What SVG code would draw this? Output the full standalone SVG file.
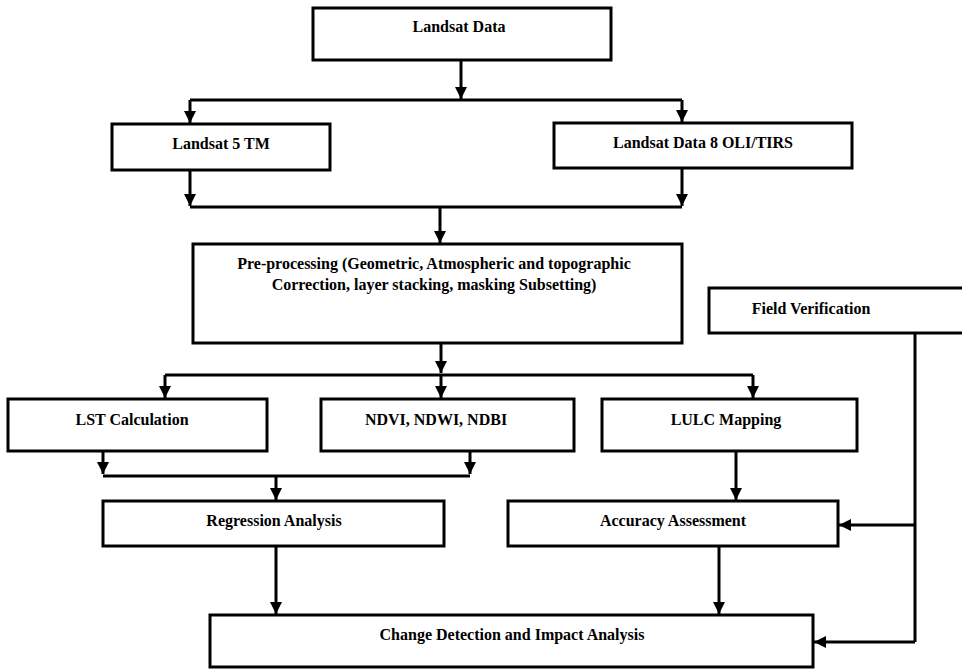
<svg xmlns="http://www.w3.org/2000/svg" width="962" height="669" viewBox="0 0 962 669">
<defs>
<marker id="ah" viewBox="0 0 10 10" refX="10" refY="5" markerWidth="4" markerHeight="4.4" orient="auto" markerUnits="strokeWidth">
<path d="M0,0 L10,5 L0,10 Z" fill="#000"/>
</marker>
<style>
.box{fill:#fff;stroke:#000;stroke-width:3}
.t{font-weight:bold;font-size:16px;text-anchor:middle;fill:#000}
.c{fill:none;stroke:#000;stroke-width:3}
.a{fill:none;stroke:#000;stroke-width:3;marker-end:url(#ah)}
</style>
</defs>
<rect width="962" height="669" fill="#fff"/>
<g id="connectors">
<path class="a" d="M461,60 V99"/>
<path class="c" d="M190,100 H682"/>
<path class="a" d="M190,100 V123"/>
<path class="a" d="M682,100 V122"/>
<path class="a" d="M190,170 V206"/>
<path class="a" d="M682,168 V206"/>
<path class="c" d="M190,207 H682"/>
<path class="a" d="M440,207 V243"/>
<path class="a" d="M441,343 V373"/>
<path class="c" d="M165,375 H753"/>
<path class="a" d="M165,375 V398"/>
<path class="a" d="M441,375 V398"/>
<path class="a" d="M753,375 V398"/>
<path class="a" d="M103,451 V474"/>
<path class="a" d="M470,451 V474"/>
<path class="c" d="M103,476 H470"/>
<path class="a" d="M276,476 V500"/>
<path class="a" d="M736,451 V500"/>
<path class="a" d="M276,546 V614"/>
<path class="a" d="M719,546 V614"/>
<path class="c" d="M915,333 V642"/>
<path class="a" d="M915,525 H839"/>
<path class="a" d="M915,642 H814"/>
</g>
<g font-family="'Liberation Serif', 'Times New Roman', 'DejaVu Serif', serif">
<g id="landsat-data"><rect class="box" x="313" y="8" width="298" height="52"/><text class="t" x="459" y="32">Landsat Data</text></g>
<g id="landsat5"><rect class="box" x="112" y="124" width="218" height="46"/><text class="t" x="221" y="149">Landsat 5 TM</text></g>
<g id="landsat8"><rect class="box" x="554" y="123" width="298" height="45"/><text class="t" x="703" y="148">Landsat Data 8 OLI/TIRS</text></g>
<g id="preprocessing"><rect class="box" x="193" y="244" width="489" height="99"/><text class="t" x="434" y="269">Pre-processing (Geometric, Atmospheric and topographic</text><text class="t" x="434" y="290">Correction, layer stacking, masking Subsetting)</text></g>
<g id="field-verification"><rect class="box" x="709" y="288" width="256" height="45"/><text class="t" x="811" y="314">Field Verification</text></g>
<g id="lst"><rect class="box" x="8" y="399" width="259" height="52"/><text class="t" x="132" y="425">LST Calculation</text></g>
<g id="ndvi"><rect class="box" x="321" y="399" width="253" height="52"/><text class="t" x="436" y="425">NDVI, NDWI, NDBI</text></g>
<g id="lulc"><rect class="box" x="602" y="399" width="255" height="52"/><text class="t" x="726" y="425">LULC Mapping</text></g>
<g id="regression"><rect class="box" x="103" y="501" width="341" height="45"/><text class="t" x="274" y="526">Regression Analysis</text></g>
<g id="accuracy"><rect class="box" x="508" y="501" width="330" height="45"/><text class="t" x="673" y="526">Accuracy Assessment</text></g>
<g id="change-detection"><rect class="box" x="210" y="615" width="603" height="52"/><text class="t" x="512" y="640">Change Detection and Impact Analysis</text></g>
</g>
</svg>
